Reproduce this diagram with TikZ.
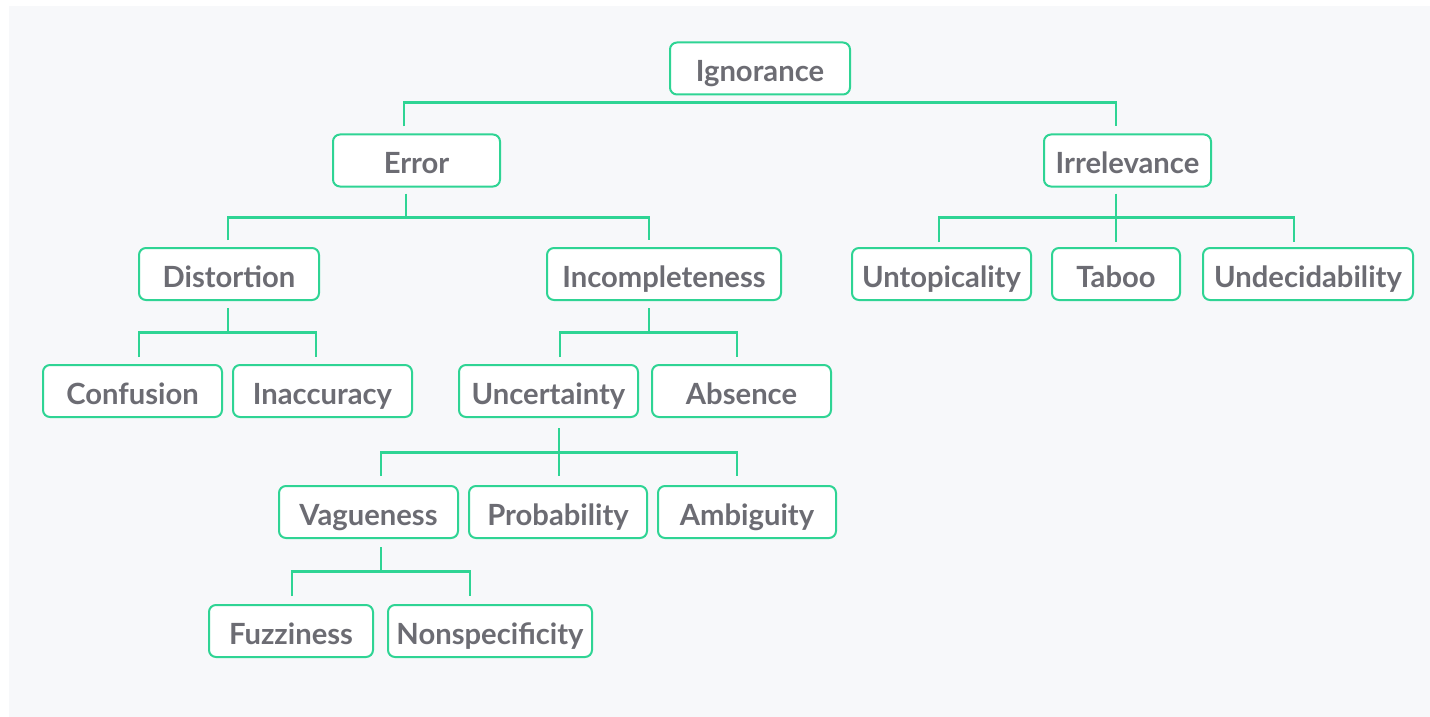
\documentclass[tikz,border=0pt]{standalone}
\usepackage{fontspec}
\setmainfont{Lato}
\definecolor{panel}{HTML}{F7F8FA}
\definecolor{mint}{HTML}{2FD494}
\definecolor{ink}{HTML}{6C6C73}
\tikzset{
  term/.style={draw=mint, line width=1pt, fill=white, rounded corners=3.5pt,
    minimum height=26pt, inner sep=0pt, text height=14pt, text depth=0.5pt,
    text=ink, font=\fontsize{14.6}{16}\selectfont\bfseries},
  link/.style={draw=mint, line width=1.1pt},
}
\begin{document}
\begin{tikzpicture}[x=0.5pt, y=-0.5pt]
  % canvas and panel
  \fill[white] (0,0) rectangle (1430,717);
  \fill[panel] (9,6) rectangle (1430,717);
  \useasboundingbox (0,0) rectangle (1430,717);

  % terms
  \node[term, minimum width=90pt]  (ign) at (760,68.5)   {Ignorance};
  \node[term, minimum width=83.5pt] (err) at (416.5,160.5) {Error};
  \node[term, minimum width=83.5pt] (irr) at (1127.5,160.5) {Irrelevance};
  \node[term, minimum width=90pt]  (dis) at (229,274)    {Distortion};
  \node[term, minimum width=117pt] (inc) at (664,274)    {Incompleteness};
  \node[term, minimum width=89.5pt] (unt) at (941.5,274) {Untopicality};
  \node[term, minimum width=64pt]  (tab) at (1116,274)   {Taboo};
  \node[term, minimum width=105pt] (und) at (1308,274)   {Undecidability};
  \node[term, minimum width=89.5pt] (con) at (132.5,391) {Confusion};
  \node[term, minimum width=89.5pt] (ina) at (322.5,391) {Inaccuracy};
  \node[term, minimum width=89.5pt] (unc) at (548.5,391) {Uncertainty};
  \node[term, minimum width=89.5pt] (abs) at (741.5,391) {Absence};
  \node[term, minimum width=89.5pt] (vag) at (368.5,512) {Vagueness};
  \node[term, minimum width=89pt]  (pro) at (558,512)    {Probability};
  \node[term, minimum width=89pt]  (amb) at (747,512)    {Ambiguity};
  \node[term, minimum width=82pt]  (fuz) at (291,631)    {Fuzziness};
  \node[term, minimum width=102pt] (non) at (490,631)    {Nonspecificity};

  % Ignorance -> Error, Irrelevance
  \draw[link] ([yshift=3.5pt]err.north -| 404,0) |- (1116,102.5)
              -- ([yshift=3.5pt]irr.north -| 1116,0);

  % Error -> Distortion, Incompleteness
  \draw[link] ([yshift=-3pt]err.south -| 406,0) -- (406,217.5);
  \draw[link] ([yshift=3.5pt]dis.north -| 228,0) |- (649,217.5)
              -- ([yshift=3.5pt]inc.north -| 649,0);

  % Irrelevance -> Untopicality, Taboo, Undecidability
  \draw[link] ([yshift=-3pt]irr.south -| 1116,0) -- ([yshift=2.5pt]tab.north -| 1116,0);
  \draw[link] ([yshift=2.5pt]unt.north -| 939,0) |- (1294,217.5)
              -- ([yshift=2.5pt]und.north -| 1294,0);

  % Distortion -> Confusion, Inaccuracy
  \draw[link] ([yshift=-3.5pt]dis.south -| 228,0) -- (228,332.5);
  \draw[link] ([yshift=3.5pt]con.north -| 139,0) |- (316,332.5)
              -- ([yshift=3.5pt]ina.north -| 316,0);

  % Incompleteness -> Uncertainty, Absence
  \draw[link] ([yshift=-3.5pt]inc.south -| 649,0) -- (649,332.5);
  \draw[link] ([yshift=3.5pt]unc.north -| 560,0) |- (737,332.5)
              -- ([yshift=3.5pt]abs.north -| 737,0);

  % Uncertainty -> Vagueness, Probability, Ambiguity
  \draw[link] ([yshift=-5pt]unc.south -| 559,0) -- ([yshift=4.5pt]pro.north -| 559,0);
  \draw[link] ([yshift=4.5pt]vag.north -| 381,0) |- (737,452.5)
              -- ([yshift=4.5pt]amb.north -| 737,0);

  % Vagueness -> Fuzziness, Nonspecificity
  \draw[link] ([yshift=-4pt]vag.south -| 381,0) -- (381,571.5);
  \draw[link] ([yshift=4pt]fuz.north -| 292,0) |- (470,571.5)
              -- ([yshift=4pt]non.north -| 470,0);
\end{tikzpicture}
\end{document}
